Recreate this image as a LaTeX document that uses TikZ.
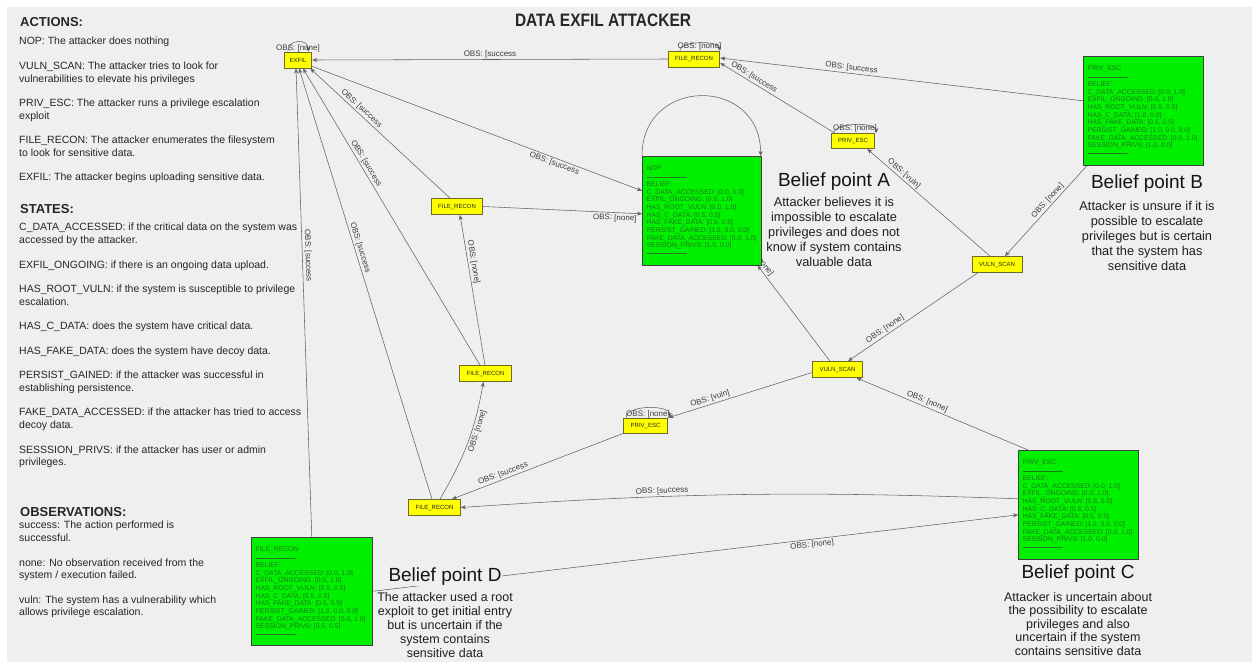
\documentclass[tikz,border=0pt]{standalone}
\usepackage{fontspec}
\setmainfont{Liberation Sans}
\usetikzlibrary{arrows.meta}
\pgfdeclarelayer{backdrop}
\pgfdeclarelayer{edgelayer}
\pgfsetlayers{backdrop,edgelayer,main}

\definecolor{bgc}{HTML}{EFEFEF}
\definecolor{edgec}{HTML}{626262}
\definecolor{lblc}{HTML}{3C3C3C}
\definecolor{actfill}{HTML}{FFFF00}
\definecolor{actdraw}{HTML}{6B6B2A}
\definecolor{boxfill}{HTML}{00F000}
\definecolor{boxtext}{HTML}{1E7A1E}
\definecolor{txt}{HTML}{262626}

% contents of a belief panel: action, then the eight belief values
\newcommand\beliefpanel[9]{#1\\[1.5pt]\rule[2pt]{40pt}{0.4pt}\\[-1pt]BELIEF:\\
C\_DATA\_ACCESSED: #2\\EXFIL\_ONGOING: #3\\HAS\_ROOT\_VULN: #4\\HAS\_C\_DATA: #5\\
HAS\_FAKE\_DATA: #6\\PERSIST\_GAINED: #7\\FAKE\_DATA\_ACCESSED: #8\\SESSION\_PRIVS: #9\\
\rule[2pt]{40pt}{0.4pt}}

\begin{document}
\begin{tikzpicture}[x=1pt,y=1pt,
  act/.style={draw=actdraw, fill=actfill, line width=0.8pt,
    font=\fontsize{6}{7}\selectfont, text=black!85,
    inner xsep=7pt, inner ysep=0pt, minimum height=16pt},
  beliefbox/.style={draw=black!75, fill=boxfill, line width=0.6pt,
    anchor=north west, inner sep=0pt},
  belieftext/.style={anchor=north west, inner sep=0pt, align=left,
    font=\fontsize{6.8}{7.7}\selectfont, text=boxtext},
  link/.style={draw=edgec, line width=0.55pt,
    -{Stealth[length=5pt,width=4pt,inset=1.5pt]}},
  lbl/.style={font=\fontsize{8}{9}\selectfont, text=lblc, inner sep=1.5pt},
  head/.style={font=\bfseries\fontsize{13}{15}\selectfont, anchor=base west,
    inner sep=0pt, text=txt},
  body/.style={font=\fontsize{10.5}{12.7}\selectfont, anchor=base west,
    inner sep=0pt, text=txt},
  btitle/.style={font=\fontsize{19}{22}\selectfont, text=black!92, inner sep=0pt},
  bdesc/.style={font=\fontsize{12.8}{15}\selectfont, align=center,
    text=black!88, inner sep=0pt},
]
\newcommand\lft[3]{\node[body] (#1) at (19,-#2) {#3};}

\useasboundingbox (0,0) rectangle (1252,-662);
\begin{pgfonlayer}{backdrop}
\fill[white] (0,0) rectangle (1252,-662);
\fill[bgc] (7,-7) rectangle (1252,-662);
\end{pgfonlayer}

% title
\node[font=\bfseries\fontsize{18}{20}\selectfont, text=black!85, inner sep=0pt]
  (title) at (603,-20.5) {\scalebox{0.86}[1]{DATA EXFIL ATTACKER}};

% legend column
\node[head] (hAct) at (20,-26.7) {ACTIONS:};
\lft{a1}{44.8}{NOP: The attacker does nothing}
\lft{a2}{69.3}{VULN\_SCAN: The attacker tries to look for}
\lft{a3}{82}{vulnerabilities to elevate his privileges}
\lft{a4}{106.5}{PRIV\_ESC: The attacker runs a privilege escalation}
\lft{a5}{119.2}{exploit}
\lft{a6}{143.7}{FILE\_RECON: The attacker enumerates the filesystem}
\lft{a7}{156.4}{to look for sensitive data.}
\lft{a8}{180.9}{EXFIL: The attacker begins uploading sensitive data.}
\node[head] (hSta) at (20,-213.7) {STATES:};
\lft{s1}{230.8}{C\_DATA\_ACCESSED: if the critical data on the system was}
\lft{s2}{243.5}{accessed by the attacker.}
\lft{s3}{268}{EXFIL\_ONGOING: if there is an ongoing data upload.}
\lft{s4}{292.5}{HAS\_ROOT\_VULN: if the system is susceptible to privilege}
\lft{s5}{305.2}{escalation.}
\lft{s6}{329.7}{HAS\_C\_DATA: does the system have critical data.}
\lft{s7}{354.2}{HAS\_FAKE\_DATA: does the system have decoy data.}
\lft{s8}{378.7}{PERSIST\_GAINED: if the attacker was successful in}
\lft{s9}{391.4}{establishing persistence.}
\lft{s10}{415.9}{FAKE\_DATA\_ACCESSED: if the attacker has tried to access}
\lft{s11}{428.6}{decoy data.}
\lft{s12}{453.1}{SESSSION\_PRIVS: if the attacker has user or admin}
\lft{s13}{465.8}{privileges.}
\node[head] (hObs) at (20,-516.7) {OBSERVATIONS:};
\lft{o1}{528.8}{success: The action performed is}
\lft{o2}{541.5}{successful.}
\lft{o3}{566}{none: No observation received from the}
\lft{o4}{578.7}{system / execution failed.}
\lft{o5}{603.2}{vuln: The system has a vulnerability which}
\lft{o6}{615.9}{allows privilege escalation.}

% action nodes
\node[act, inner xsep=5.5pt] (exfil) at (298,-60) {EXFIL};
\node[act] (frTop) at (694,-59) {FILE\_RECON};
\node[act, minimum height=15pt] (peTop) at (853,-141) {PRIV\_ESC};
\node[act] (vsR) at (997,-264.5) {VULN\_SCAN};
\node[act] (vsM) at (837.5,-369.5) {VULN\_SCAN};
\node[act, minimum height=15pt] (peM) at (645.5,-425.5) {PRIV\_ESC};
\node[act] (frMid) at (485.5,-373.5) {FILE\_RECON};
\node[act] (frUp) at (457,-206.5) {FILE\_RECON};
\node[act] (frBot) at (434.5,-507.5) {FILE\_RECON};

% belief panels
\node[beliefbox, minimum width=119pt, minimum height=109pt] (bA) at (642,-156) {};
\node[belieftext] (bAt) at ([xshift=4.5pt,yshift=-9.5pt]bA.north west)
  {\beliefpanel{NOP}{[0.0, 1.0]}{[0.0, 1.0]}{[0.0, 1.0]}{[0.5, 0.5]}{[0.5, 0.5]}{[1.0, 0.0, 0.0]}{[0.0, 1.0]}{[1.0, 0.0]}};
\node[beliefbox, minimum width=120pt, minimum height=109pt] (bB) at (1083,-56) {};
\node[belieftext] (bBt) at ([xshift=4.5pt,yshift=-9.5pt]bB.north west)
  {\beliefpanel{PRIV\_ESC}{[0.0, 1.0]}{[0.0, 1.0]}{[0.5, 0.5]}{[1.0, 0.0]}{[0.5, 0.5]}{[1.0, 0.0, 0.0]}{[0.0, 1.0]}{[1.0, 0.0]}};
\node[beliefbox, minimum width=120pt, minimum height=109pt] (bC) at (1018,-450) {};
\node[belieftext] (bCt) at ([xshift=4.5pt,yshift=-9.5pt]bC.north west)
  {\beliefpanel{PRIV\_ESC}{[0.0, 1.0]}{[0.0, 1.0]}{[0.5, 0.5]}{[0.5, 0.5]}{[0.5, 0.5]}{[1.0, 0.0, 0.0]}{[0.0, 1.0]}{[1.0, 0.0]}};
\node[beliefbox, minimum width=121pt, minimum height=108pt] (bD) at (251,-537) {};
\node[belieftext] (bDt) at ([xshift=4.5pt,yshift=-9.5pt]bD.north west)
  {\beliefpanel{FILE\_RECON}{[0.0, 1.0]}{[0.0, 1.0]}{[0.5, 0.5]}{[0.5, 0.5]}{[0.5, 0.5]}{[1.0, 0.0, 0.0]}{[0.0, 1.0]}{[0.5, 0.5]}};

% belief point captions
\node[btitle] (tA) at (834,-182) {Belief point A};
\node[bdesc] (dA) at (834,-232) {Attacker believes it is\\impossible to escalate\\privileges and does not\\know if system contains\\valuable data};
\node[btitle] (tB) at (1147,-184) {Belief point B};
\node[bdesc] (dB) at (1147,-236) {Attacker is unsure if it is\\possible to escalate\\privileges but is certain\\that the system has\\sensitive data};
\node[btitle] (tC) at (1078,-574) {Belief point C};
\node[bdesc, font=\fontsize{12.5}{13.5}\selectfont] (dC) at (1078,-624) {Attacker is uncertain about\\the possibility to escalate\\privileges and also\\uncertain if the system\\contains sensitive data};
\node[btitle, fill=bgc] (tD) at (445,-577) {Belief point D};
\node[bdesc, font=\fontsize{12.5}{14}\selectfont] (dD) at (445,-625) {The attacker used a root\\exploit to get initial entry\\but is uncertain if the\\system contains\\sensitive data};

% transitions
\begin{pgfonlayer}{edgelayer}
\draw[link] ([xshift=4pt]exfil.north west) to[out=90,in=90,distance=13pt]
  node[lbl, yshift=-7pt] {OBS: [none]} ([xshift=-4pt]exfil.north east);
\draw[link] ([xshift=12pt]frTop.north west) to[out=90,in=90,distance=10pt]
  node[lbl, yshift=-3.5pt] {OBS: [none]} ([xshift=-1pt]frTop.north east);
\draw[link] ([xshift=3pt]peTop.north west) to[out=90,in=90,distance=11pt]
  node[lbl, yshift=-4pt] {OBS: [none]} ([xshift=1pt]peTop.north east);
\draw[link] ([xshift=3pt]peM.north west) to[out=90,in=90,distance=13pt]
  node[lbl, yshift=-7pt] {OBS: [none]} ([xshift=2pt]peM.north east);
\draw[link] (bA.north west) to[out=90,in=90,distance=80pt] ([xshift=-1pt]bA.north east);

\draw[link] (frTop.west) -- node[lbl, above, sloped] {OBS: [success} (exfil.east);
\draw[link] ([xshift=4pt]peTop.north west) -- node[lbl, above, sloped, pos=0.73] {OBS: [success} ([yshift=-4pt]frTop.east);
\draw[link] ([yshift=10pt]bB.west) -- node[lbl, above, sloped, pos=0.64] {OBS: [success} ([yshift=1pt]frTop.east);
\draw[link] ([xshift=4pt]bB.south west) -- node[lbl, above, sloped, pos=0.43] {OBS: [none]} ([xshift=8pt]vsR.north);
\draw[link] ([xshift=-7pt]vsR.north) -- node[lbl, above, sloped, pos=0.73] {OBS: [vuln]} ([xshift=-8pt]peTop.south east);
\draw[link] ([xshift=6pt]vsR.south west) -- node[lbl, above, sloped, pos=0.69] {OBS: [none]} ([xshift=10.5pt]vsM.north);
\draw[link] ([xshift=-7.5pt]vsM.north) -- node[lbl, above, sloped, pos=1.05] {OBS: [none]} ([xshift=-4pt]bA.south east);
\draw[link] ([yshift=2pt]exfil.south east) -- node[lbl, below, sloped, pos=0.74] {OBS: [success} ([yshift=20pt]bA.west);
\draw[link] ([xshift=-7pt]frUp.north) -- node[lbl, above, sloped, pos=0.66] {OBS: [success} ([xshift=-2pt]exfil.south east);
\draw[link] ([xshift=-5.5pt]frMid.north) -- node[lbl, above, sloped, pos=0.67] {OBS: [success} ([xshift=5pt]exfil.south);
\draw[link] ([xshift=-2.5pt]frBot.north) -- node[lbl, above, sloped, pos=0.58] {OBS: [success} ([xshift=1pt]exfil.south);
\draw[link] (bD.north) -- node[lbl, above, sloped, pos=0.6] {OBS: [success} ([xshift=-2pt]exfil.south);
\draw[link] (frUp.east) -- node[lbl, below, sloped, pos=0.83] {OBS: [none]} ([yshift=-3pt]bA.west);
\draw[link] ([xshift=-0.5pt]frMid.north) -- node[lbl, above, sloped, pos=0.68] {OBS: [none]} ([xshift=3pt]frUp.south);
\draw[link] ([xshift=5.5pt]frBot.north) to[bend right=10] node[lbl, below, sloped, pos=0.62] {OBS: [none]} ([xshift=-2pt]frMid.south);
\draw[link] (peM.south west) -- node[lbl, above, sloped, pos=0.69] {OBS: [success} ([xshift=17.5pt]frBot.north);
\draw[link] ([yshift=-3pt]vsM.west) -- node[lbl, above, sloped, pos=0.7] {OBS: [vuln]} ([xshift=1pt]peM.north east);
\draw[link] ([xshift=10pt]bC.north west) -- node[lbl, above, sloped, pos=0.6] {OBS: [none]} ([xshift=19pt]vsM.south);
\draw[link] ([yshift=6pt]bC.west) to[bend right=3] node[lbl, above, sloped, pos=0.65] {OBS: [success} (frBot.east);
\draw[link] (bD.east) -- node[lbl, below, sloped, pos=0.68] {OBS: [none]} ([yshift=-10pt]bC.west);
\end{pgfonlayer}
\end{tikzpicture}
\end{document}
